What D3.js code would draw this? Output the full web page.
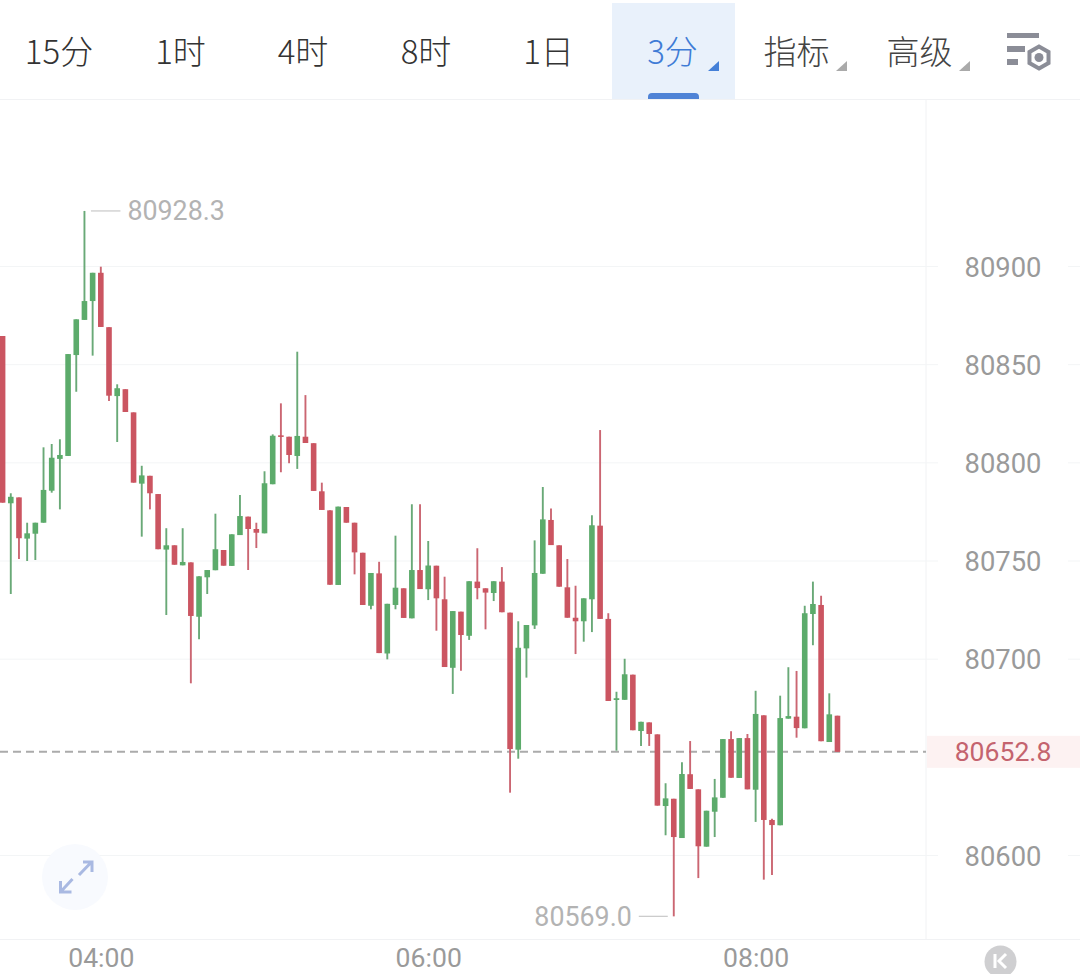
<!DOCTYPE html>
<html>
<head>
<meta charset="utf-8">
<script src="https://cdn.jsdelivr.net/npm/d3@7"></script>
<style>
html,body{margin:0;padding:0;background:#fff;overflow:hidden}
svg{display:block}
text{font-family:Roboto,"Noto Sans",sans-serif}
.cjk{font-family:"Noto Sans CJK SC","Noto Sans",sans-serif}
</style>
</head>
<body>
<svg id="c" width="1080" height="974"></svg>
<script>
const opens = [
80864.6,80779.4,80782.4,80761.4,80763.9,80769.5,80785.8,80802,80803.5,80854.9,
80872.8,80882.4,80896.8,80869.1,80834,80837.5,80825.7,80789.4,80793.4,80784.1,
80755.8,80758,80747.8,80749.3,80721.6,80741.7,80745.3,80755.6,80747.5,80763.2,
80772.6,80766.3,80764.1,80789.1,80814,80813.3,80803.5,80813.3,80810,80785.5,
80775.8,80737.8,80777.5,80769.5,80754.2,80727.2,80743.7,80702.9,80727.6,80736.1,
80720.8,80745.4,80735.6,80747.6,80730.5,80695.6,80724.2,80711.9,80739.5,80736.1,
80733.7,80739.5,80723.7,80653.9,80705.5,80717.2,80743.5,80770.9,80758,80736.6,
80721.1,80719.3,80730.5,80768,80720.5,80679.2,80679.3,80692.1,80663.4,80667.8,
80661.7,80625.2,80628.9,80608.9,80641.4,80633.7,80604.5,80622.3,80629.4,80659.3,
80639.5,80659.8,80633.5,80671.4,80618.1,80615.4,80669.7,80670.7,80664.8,80723,
80727.6,80657.8,80671.2];
const closes = [
80779.7,80782.7,80761.6,80764.1,80769.5,80786.2,80802.6,80804,80855.4,80873.1,
80882.4,80896.8,80869.2,80834.2,80838,80825.9,80789.9,80793.6,80784.5,80756,
80758,80748.1,80749.5,80722,80742.2,80745.4,80756,80747.6,80763.6,80772.9,
80766.3,80764.4,80789.6,80813.8,80813.2,80804,80813.7,80810.1,80785.7,80776,
80737.9,80777.7,80769.5,80754.4,80727.6,80743.9,80703.1,80728.2,80736.4,80721,
80745.4,80735.7,80747.7,80731,80696,80724.5,80712.3,80739.7,80736.2,80733.9,
80739.7,80723.9,80654.2,80705.8,80717.4,80743.9,80771.2,80758.1,80736.9,80721.1,
80719.3,80731,80768.2,80720.5,80678.7,80680.1,80692.3,80663.8,80668.1,80661.9,
80625.4,80629.1,80609.4,80641.5,80633.9,80604.7,80622.8,80629.6,80659.3,80639.6,
80659.8,80633.7,80672.1,80618.1,80615.5,80670,80671,80664.9,80723.4,80728.1,
80658.2,80671.9,80652.8];
const highs = [
80864.6,80784.5,80782.4,80769.5,80769.5,80807.9,80809.6,80812,80855.4,80873.1,
80928.3,80896.8,80899.9,80869.1,80840,80837.5,80825.7,80798.5,80793.4,80784.1,
80766.7,80758,80766.7,80749.3,80742.2,80745.4,80774.1,80755.6,80763.6,80783.6,
80772.6,80769.5,80795.7,80814.5,80830.3,80813.3,80856.6,80834.5,80810,80789.9,
80775.8,80777.7,80777.5,80769.5,80754.2,80743.9,80749.6,80728.2,80762.9,80736.1,
80778.9,80778.9,80760.2,80747.6,80742,80724.5,80724.2,80739.7,80756.5,80736.1,
80739.7,80746.9,80723.7,80719.3,80717.4,80760.5,80787.7,80776.8,80758,80751,
80737.4,80731,80773.3,80816.7,80723.4,80683.4,80700.2,80692.1,80668.1,80667.8,
80661.7,80636.8,80628.9,80647.5,80658.3,80633.7,80622.8,80639,80659.3,80663.3,
80659.8,80661.9,80683.9,80671.4,80618.7,80681.4,80695.9,80694,80727.2,80739.5,
80732.3,80682.6,80671.2];
const lows = [
80779.7,80733.2,80751,80750,80750.5,80769.5,80784.8,80776.3,80803.5,80836.2,
80872.8,80854.6,80869.2,80831.5,80810.6,80825.9,80789.9,80762.4,80776.3,80756,
80722.5,80748.1,80747.8,80687.7,80710.1,80733.2,80745.3,80747.6,80747.5,80763.2,
80745.4,80756.6,80764.1,80789.1,80795.2,80799.8,80796.9,80810.1,80785.7,80776,
80737.9,80737.8,80769.5,80743.2,80727.6,80725.4,80703.1,80699.9,80725.4,80721,
80720.8,80735.7,80730.1,80714.5,80696,80682.3,80694.1,80709.8,80730.5,80715.2,
80729.6,80723.9,80632,80649.3,80690.6,80715.4,80743.5,80758.1,80736.9,80721.1,
80702.6,80708.9,80713.8,80720.5,80678.7,80653.4,80679.3,80663.8,80655.8,80655.8,
80625.4,80610.3,80569,80608.9,80633.9,80588.5,80604.5,80609.4,80629.4,80639.6,
80639.5,80633.7,80617.1,80587.7,80590.1,80615.4,80669.7,80660,80664.8,80707.1,
80658.2,80657.8,80652.8];
const yTicks = [80600,80700,80750,80800,80850,80900];
const gridValues = [80600,80700,80750,80800,80850,80900];
const xTickHours = [4,6,8];
const lastPrice = 80652.8;
const maxPrice = 80928.3;
const minPrice = 80569.0;
const tabs = ["15分","1时","4时","8时","1日"];
const activeTab = "3分";
const menus = ["指标","高级"];

const UP = "#5cab6b", DOWN = "#cb5561";
const svg = d3.select("#c");
const start = new Date(2024,0,1,3,24);
const times = opens.map((_,i)=>d3.timeMinute.offset(start,i*3));
const candles = opens.map((o,i)=>({t:times[i],o,c:closes[i],h:highs[i],l:lows[i]}));
const x = d3.scaleTime().domain([start,d3.timeMinute.offset(start,103*3)]).range([2.6,2.6+8.185*103]);
const y = d3.scaleLinear().domain([80600,80900]).range([855.5,266.5]);

/* toolbar */
const tb = svg.append("g");
tb.append("rect").attr("x",612).attr("y",3).attr("width",123).attr("height",96).attr("fill","#e9f1fb");
tb.append("path").attr("d","M648 99V97q0-4 4-4h43q4 0 4 4v2z").attr("fill","#4f83d6");
const tabX = [59,180.5,303,426,548.5];
tabs.forEach((t,i)=>tb.append("text").attr("class","cjk").attr("x",tabX[i]).attr("y",64).attr("text-anchor","middle")
  .attr("font-size",33).attr("font-weight",300).attr("fill","#333").text(t));
tb.append("text").attr("class","cjk").attr("x",672.5).attr("y",64).attr("text-anchor","middle").attr("font-size",33).attr("font-weight",300).attr("fill","#3f7cd6").text(activeTab);
tb.append("path").attr("d","M708 71L719 71L719 61Z").attr("fill","#4480d8");
const menuX = [796.5,919.5], triX=[847,970];
menus.forEach((t,i)=>{
  tb.append("text").attr("class","cjk").attr("x",menuX[i]).attr("y",64).attr("text-anchor","middle").attr("font-size",33).attr("font-weight",300).attr("fill","#444").text(t);
  tb.append("path").attr("d",`M${triX[i]-11} 71L${triX[i]} 71L${triX[i]} 61Z`).attr("fill","#aaa");
});
/* settings icon */
const ic = tb.append("g").attr("fill","#8b8d97");
ic.append("rect").attr("x",1007).attr("y",33).attr("width",32).attr("height",5);
ic.append("rect").attr("x",1007).attr("y",46).attr("width",18).attr("height",6);
ic.append("rect").attr("x",1007).attr("y",59).attr("width",11).attr("height",6);
const hex = d3.range(6).map(k=>[1039+11*Math.sin(k*Math.PI/3),57.5+11*Math.cos(k*Math.PI/3)]);
ic.append("path").attr("d",d3.line()(hex)+"Z").attr("fill","none").attr("stroke","#8b8d97").attr("stroke-width",4);
ic.append("circle").attr("cx",1039).attr("cy",57.5).attr("r",4.5);

/* frame and grid */
const frame = "#f1f2f4";
svg.append("line").attr("x1",0).attr("x2",1080).attr("y1",99.5).attr("y2",99.5).attr("stroke",frame);
svg.append("line").attr("x1",0).attr("x2",1080).attr("y1",939.5).attr("y2",939.5).attr("stroke",frame);
svg.append("line").attr("x1",926).attr("x2",926).attr("y1",99).attr("y2",939).attr("stroke",frame);
svg.append("g").selectAll("line").data(gridValues).join("line")
  .attr("x1",0).attr("x2",1080).attr("y1",d=>y(d)).attr("y2",d=>y(d)).attr("stroke","#f3f5f6");

/* last price */
svg.append("line").attr("x1",0).attr("x2",926).attr("y1",y(lastPrice)).attr("y2",y(lastPrice))
  .attr("stroke","#ababab").attr("stroke-width",2).attr("stroke-dasharray","8 5");

/* candles */
const cg = svg.append("g");
cg.selectAll("line").data(candles).join("line")
  .attr("x1",d=>x(d.t)).attr("x2",d=>x(d.t)).attr("y1",d=>y(d.h)).attr("y2",d=>y(d.l))
  .attr("stroke",d=>d.c>=d.o?"#69a977":"#cb6672").attr("stroke-width",1.9);
cg.selectAll("rect").data(candles).join("rect")
  .attr("x",d=>x(d.t)-2.8).attr("width",5.6)
  .attr("y",d=>y(Math.max(d.o,d.c))).attr("height",d=>Math.max(1,Math.abs(y(d.o)-y(d.c))))
  .attr("fill",d=>d.c>=d.o?UP:DOWN);

/* y axis */
const yAxis = svg.append("g").attr("transform","translate(1003,0)")
  .call(d3.axisRight(y).tickValues(yTicks).tickSize(0).tickPadding(0).tickFormat(d3.format("d")));
yAxis.select(".domain").remove();
yAxis.selectAll(".tick").insert("rect","text").attr("x",-65).attr("y",-14).attr("width",130).attr("height",28).attr("fill","#fff");
yAxis.selectAll("text").attr("text-anchor","middle").attr("dy","0.35em").attr("font-size",27.4).attr("fill","#9a9a9a")
  .attr("font-family",'Roboto,"Noto Sans",sans-serif');

/* last price tag */
svg.append("rect").attr("x",927).attr("y",y(lastPrice)-16).attr("width",153).attr("height",32).attr("fill","#fdf2f2");
svg.append("text").attr("x",1003).attr("y",y(lastPrice)).attr("dy","0.35em").attr("text-anchor","middle")
  .attr("font-size",26.6).attr("fill","#c4636e").text(d3.format(".1f")(lastPrice));

/* max/min markers */
const iMax = highs.indexOf(maxPrice), iMin = lows.indexOf(minPrice);
svg.append("line").attr("x1",x(times[iMax])+6.5).attr("x2",x(times[iMax])+36).attr("y1",y(maxPrice)).attr("y2",y(maxPrice)).attr("stroke","#ccc").attr("stroke-width",1.3);
svg.append("text").attr("x",x(times[iMax])+43).attr("y",y(maxPrice)).attr("dy","0.35em").attr("font-size",26.8).attr("fill","#b3b3b3").text(d3.format(".1f")(maxPrice));
svg.append("line").attr("x1",x(times[iMin])-6).attr("x2",x(times[iMin])-35).attr("y1",y(minPrice)).attr("y2",y(minPrice)).attr("stroke","#ccc").attr("stroke-width",1.3);
svg.append("text").attr("x",x(times[iMin])-42).attr("y",y(minPrice)).attr("dy","0.35em").attr("text-anchor","end").attr("font-size",26.8).attr("fill","#b3b3b3").text(d3.format(".1f")(minPrice));

/* x axis */
const xAxis = svg.append("g").attr("transform","translate(0,958)")
  .call(d3.axisBottom(x).tickValues(xTickHours.map(h=>new Date(2024,0,1,h,0))).tickSize(0).tickPadding(0).tickFormat(d3.timeFormat("%H:%M")));
xAxis.select(".domain").remove();
xAxis.selectAll("text").attr("dy","0.35em").attr("y",0).attr("font-size",26.6).attr("fill","#9a9a9a")
  .attr("font-family",'Roboto,"Noto Sans",sans-serif');

/* expand button */
const ex = svg.append("g");
ex.append("circle").attr("cx",75).attr("cy",877).attr("r",33).attr("fill","#f8fafe");
ex.append("path").attr("fill","none").attr("stroke","#a9b9e2").attr("stroke-width",3)
  .attr("d","M79 875L91.5 862M83 862H92V872M72.5 879L60.5 892M60.5 881V892H71.5");

/* K button */
svg.append("circle").attr("cx",1000.5).attr("cy",961.5).attr("r",12.5).attr("fill","#cfcfd1");
svg.append("circle").attr("cx",1000.5).attr("cy",961.5).attr("r",16).attr("fill","#cfcfd1");
svg.append("path").attr("fill","none").attr("stroke","#fff").attr("stroke-width",3)
  .attr("d","M995 954V968M1006 954L999 961L1006 968");
</script>
</body>
</html>
